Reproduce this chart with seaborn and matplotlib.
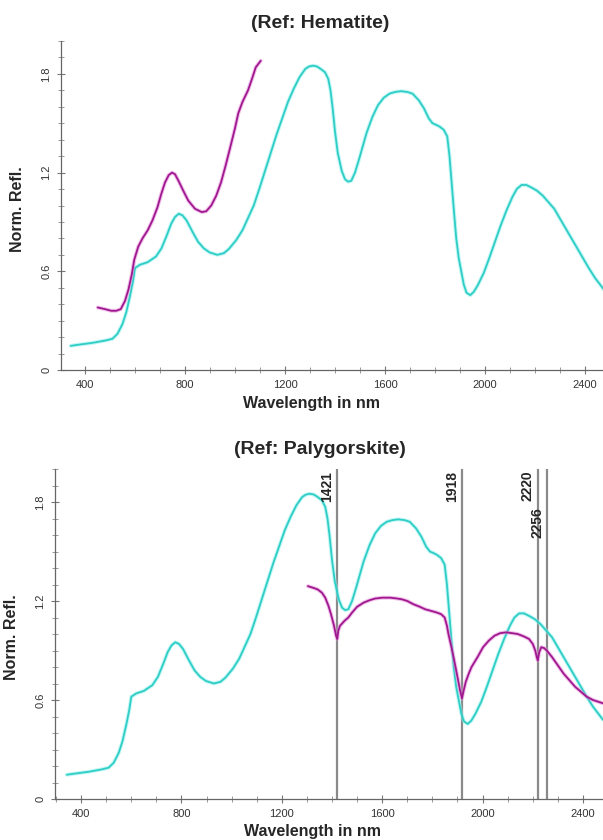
import numpy as np
import pandas as pd
import matplotlib
matplotlib.use("Agg")
import matplotlib.pyplot as plt
from matplotlib.ticker import MultipleLocator, FuncFormatter
import seaborn as sns

sns.set_style("ticks")
plt.rcParams['font.family'] = ['Liberation Sans', 'DejaVu Sans']

# sample spectrum (cyan), same in both panels
sample_wl = [343, 380, 430, 484, 510, 530, 550, 565, 580, 592, 600, 620, 650, 684, 706, 725,
             745, 760, 775, 790, 806, 830, 852, 875, 898, 929, 955, 975, 1005, 1030, 1051,
             1075, 1097, 1120, 1143, 1166, 1189, 1212, 1235, 1258, 1281, 1296, 1312, 1328,
             1343, 1360, 1373, 1382, 1390, 1400, 1411, 1427, 1440, 1452, 1465, 1480, 1496,
             1526, 1550, 1572, 1595, 1618, 1640, 1664, 1690, 1710, 1735, 1756, 1775, 1790,
             1805, 1818, 1835, 1849, 1858, 1866, 1875, 1885, 1895, 1905, 1915, 1926, 1941,
             1955, 1971, 1995, 2017, 2040, 2063, 2086, 2109, 2127, 2146, 2165, 2185, 2208,
             2231, 2254, 2277, 2300, 2323, 2346, 2369, 2392, 2415, 2440, 2480]
sample_refl = [0.147, 0.155, 0.165, 0.18, 0.19, 0.22, 0.28, 0.35, 0.45, 0.54, 0.62, 0.64,
               0.655, 0.69, 0.74, 0.81, 0.89, 0.93, 0.95, 0.94, 0.91, 0.84, 0.78, 0.74, 0.715,
               0.70, 0.71, 0.735, 0.79, 0.85, 0.92, 1.00, 1.10, 1.21, 1.32, 1.43, 1.53, 1.63,
               1.71, 1.78, 1.83, 1.845, 1.85, 1.845, 1.83, 1.81, 1.77, 1.70, 1.60, 1.45, 1.32,
               1.21, 1.16, 1.145, 1.15, 1.20, 1.28, 1.44, 1.54, 1.61, 1.655, 1.68, 1.69, 1.695,
               1.69, 1.68, 1.64, 1.59, 1.53, 1.50, 1.49, 1.48, 1.46, 1.42, 1.30, 1.15, 0.98,
               0.80, 0.68, 0.60, 0.52, 0.47, 0.455, 0.475, 0.515, 0.59, 0.68, 0.78, 0.88, 0.97,
               1.05, 1.10, 1.125, 1.125, 1.11, 1.09, 1.06, 1.02, 0.98, 0.92, 0.86, 0.80, 0.74,
               0.68, 0.62, 0.56, 0.48]

# reference: hematite (magenta, top)
hem_wl = [451, 480, 505, 525, 543, 560, 574, 587, 597, 613, 630, 651, 670, 690, 705, 720,
          735, 748, 760, 774, 793, 813, 840, 867, 885, 905, 925, 944, 962, 982, 1000, 1013,
          1030, 1052, 1068, 1083, 1103]
hem_refl = [0.38, 0.37, 0.36, 0.36, 0.37, 0.42, 0.49, 0.58, 0.67, 0.75, 0.80, 0.85, 0.91,
            0.99, 1.07, 1.14, 1.185, 1.20, 1.19, 1.15, 1.09, 1.03, 0.98, 0.96, 0.965, 1.00,
            1.06, 1.14, 1.24, 1.36, 1.47, 1.56, 1.63, 1.70, 1.77, 1.84, 1.88]

# reference: palygorskite (magenta, bottom)
paly_wl = [1304, 1325, 1343, 1360, 1373, 1386, 1396, 1408, 1416, 1421, 1425, 1432, 1450,
           1465, 1480, 1500, 1526, 1550, 1572, 1600, 1633, 1660, 1679, 1700, 1725, 1750,
           1771, 1795, 1818, 1835, 1849, 1858, 1864, 1876, 1887, 1900, 1910, 1918, 1925,
           1933, 1945, 1956, 1980, 2002, 2025, 2048, 2070, 2094, 2118, 2140, 2165, 2185,
           2200, 2210, 2216, 2220, 2226, 2234, 2245, 2256, 2277, 2300, 2323, 2346, 2369,
           2392, 2415, 2440, 2480]
paly_refl = [1.29, 1.28, 1.27, 1.25, 1.22, 1.17, 1.12, 1.05, 0.99, 0.97, 1.02, 1.05, 1.08,
             1.10, 1.13, 1.165, 1.19, 1.205, 1.215, 1.22, 1.22, 1.215, 1.21, 1.20, 1.18,
             1.165, 1.15, 1.14, 1.13, 1.12, 1.10, 1.05, 1.00, 0.92, 0.84, 0.74, 0.66, 0.61,
             0.66, 0.71, 0.76, 0.80, 0.86, 0.92, 0.96, 0.99, 1.005, 1.01, 1.005, 1.00, 0.985,
             0.97, 0.94, 0.90, 0.86, 0.84, 0.89, 0.92, 0.915, 0.90, 0.86, 0.81, 0.76, 0.72,
             0.68, 0.65, 0.62, 0.60, 0.58]

# absorption features marked in bottom panel
features = [1421, 1918, 2220, 2256]
feature_label_top = [1.99, 1.99, 1.99, 1.77]

sample = pd.DataFrame({'wl': sample_wl, 'refl': sample_refl})
hem = pd.DataFrame({'wl': hem_wl, 'refl': hem_refl})
paly = pd.DataFrame({'wl': paly_wl, 'refl': paly_refl})

fig = plt.figure(figsize=(6.03, 8.4), dpi=100)
W, H = 603.0, 840.0
ax1 = fig.add_axes([61 / W, (H - 370) / H, (W - 61) / W, 329 / H])
ax2 = fig.add_axes([55 / W, (H - 799) / H, (W - 55) / W, 330 / H])

cyan_halo, cyan_core = '#8ff2ec', '#2fcdc6'
mag_halo, mag_core = '#e58ad8', '#a0188f'


def draw_line(ax, df, halo, core):
    sns.lineplot(data=df, x='wl', y='refl', ax=ax, color=halo, lw=2.8, alpha=0.55,
                 estimator=None, sort=False)
    sns.lineplot(data=df, x='wl', y='refl', ax=ax, color=core, lw=1.3,
                 estimator=None, sort=False)


def style_axes(ax, xlim, title, title_y):
    ax.set_xlim(*xlim)
    ax.set_ylim(0, 2.0)
    sns.despine(ax=ax)
    for s in ['left', 'bottom']:
        ax.spines[s].set_color('#666666')
        ax.spines[s].set_linewidth(0.9)
    ax.xaxis.set_major_locator(MultipleLocator(400))
    ax.xaxis.set_minor_locator(MultipleLocator(100))
    ax.yaxis.set_major_locator(MultipleLocator(0.6))
    ax.yaxis.set_minor_locator(MultipleLocator(0.1))
    ax.yaxis.set_major_formatter(FuncFormatter(lambda v, p: '0' if abs(v) < 1e-9 else f'{v:.1f}'))
    ax.tick_params(which='major', direction='inout', length=6, width=0.8, color='#777777',
                   labelsize=8, labelcolor='#333333')
    ax.tick_params(which='minor', direction='inout', length=4, width=0.7, color='#999999')
    ax.tick_params(axis='x', which='major', pad=4)
    ax.tick_params(axis='y', which='major', pad=4, labelrotation=90)
    for t in ax.get_yticklabels():
        t.set_va('center')
    ax.set_xlabel('Wavelength in nm', fontsize=11.5, fontweight='bold')
    ax.set_ylabel('Norm. Refl.', fontsize=11.5, fontweight='bold')
    fig.text(320 / W, 1 - title_y / H, title, fontsize=14, fontweight='bold',
             ha='center', va='center')


draw_line(ax1, sample, cyan_halo, cyan_core)
draw_line(ax1, hem, mag_halo, mag_core)
style_axes(ax1, (304, 2472), '(Ref: Hematite)', 24)
ax1.xaxis.set_label_coords(0.463, -0.08)
ax1.yaxis.set_label_coords(-0.066, 0.49)

for wl in features:
    ax2.axvline(wl, color='#8a8a8a', lw=1.6, zorder=1)
draw_line(ax2, sample, cyan_halo, cyan_core)
draw_line(ax2, paly, mag_halo, mag_core)
for wl, top in zip(features, feature_label_top):
    ax2.annotate(str(wl), xy=(wl, top), xytext=(-2, 0), textcoords='offset points',
                 rotation=90, ha='right', va='top', fontsize=10, fontweight='bold')
style_axes(ax2, (296, 2480), '(Ref: Palygorskite)', 450)
ax2.xaxis.set_label_coords(0.469, -0.075)
ax2.yaxis.set_label_coords(-0.066, 0.49)

fig.savefig('out.png', dpi=100)
